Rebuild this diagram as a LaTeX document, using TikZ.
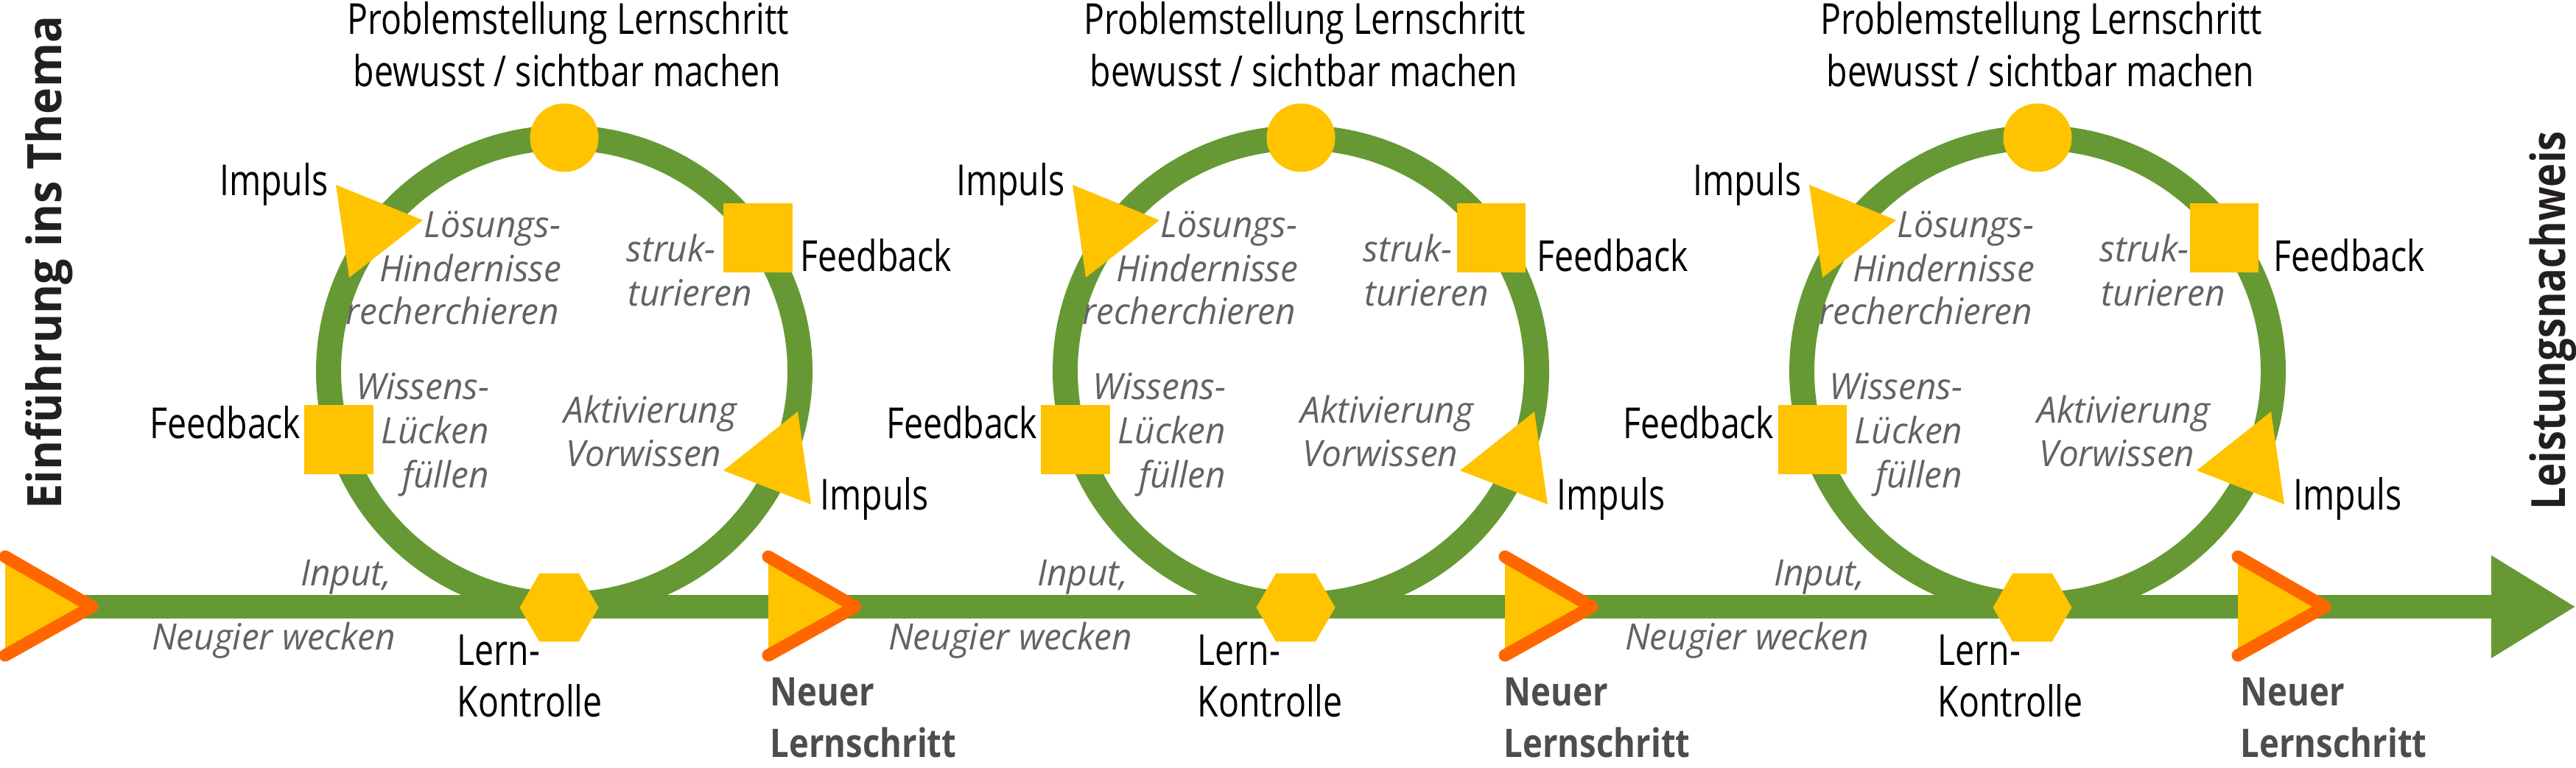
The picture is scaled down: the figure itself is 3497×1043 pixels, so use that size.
\documentclass[tikz,border=0pt]{standalone}
\usepackage{fontspec}
\setmainfont{Open Sans}
\newfontfamily\condf{Open Sans}[FakeStretch=0.80]
\newfontfamily\condbf{Open Sans}[FakeStretch=0.85]
\newfontfamily\widebf{Open Sans}[FakeStretch=0.95]
\newfontfamily\itf{Open Sans}[FakeStretch=0.97]
\usetikzlibrary{arrows.meta,shapes.geometric}
\definecolor{lgreen}{HTML}{669933}
\definecolor{lyellow}{HTML}{FFC300}
\definecolor{lorange}{HTML}{FF6600}
\definecolor{lgray}{HTML}{626262}
\definecolor{ngray}{HTML}{4D4D4F}
\definecolor{tblack}{HTML}{231F20}
\tikzset{
  lbl/.style={inner sep=0pt, font=\condf\fontsize{16.5}{16.5}\selectfont, text=black},
  itl/.style={inner sep=0pt, font=\itf\itshape\fontsize{14}{14}\selectfont, text=lgray},
  nlbl/.style={inner sep=0pt, font=\condbf\bfseries\fontsize{15.2}{15.2}\selectfont, text=ngray},
  loopring/.style={draw=lgreen, line width=0.34cm},
  axis/.style={draw=lgreen, line width=0.32cm, -{Triangle[length=1.15cm,width=1.31cm]}},
  ysq/.style={fill=lyellow, rectangle, minimum size=0.93cm, inner sep=0pt, outer sep=0pt},
  ycirc/.style={fill=lyellow, circle, minimum size=0.93cm, inner sep=0pt, outer sep=0pt},
  yhex/.style={fill=lyellow, regular polygon, regular polygon sides=6, minimum size=1.07cm, inner sep=0pt, outer sep=0pt},
  chev/.style={draw=lorange, line width=0.17cm, line cap=round, line join=round},
}
\begin{document}
\begin{tikzpicture}[x=0.01cm, y=-0.01cm]
\useasboundingbox (0,0) rectangle (3497,1043);

% main axis
\coordinate (start) at (7,824);
\coordinate (end) at (3497,824);
\draw[axis] (start) -- (end);

% three loops
\foreach \k in {0,1,2}{
  \pgfmathsetmacro{\o}{1000*\k}
  \pgfmathsetmacro{\os}{995*\k}
  \pgfmathsetmacro{\ol}{1005*\k}
  \coordinate (c\k) at (766+\o,504);
  \draw[loopring] (c\k) ellipse [x radius=320, y radius=317];
  \node[ycirc] (top\k) at (766+\o,187) {};
  \node[ysq] (fbr\k) at (1029+\os,323) {};
  \node[ysq] (fbl\k) at (460+\o,597) {};
  \node[yhex] (lk\k) at (759+\o,825) {};
  \fill[lyellow] (456+\o,251) -- (574+\o,299) -- (474+\o,377) -- cycle;
  \fill[lyellow] (1083+\o,559) -- (1101+\o,685) -- (982+\o,639) -- cycle;
  % labels
  \node[lbl, anchor=base] (ps\k) at (771+\o,47) {Problemstellung Lernschritt};
  \node[lbl, anchor=base] (bs\k) at (770+\o,118) {bewusst / sichtbar machen};
  \node[lbl, anchor=base east] (imp\k) at (446+\o,266) {Impuls};
  \node[lbl, anchor=base west] (fr\k) at (1086+\o,369) {Feedback};
  \node[lbl, anchor=base east] (fl\k) at (409+\o,595) {Feedback};
  \node[lbl, anchor=base west] (imq\k) at (1113+\o,692) {Impuls};
  \node[lbl, anchor=base west] (lern\k) at (620+\ol,903) {Lern-};
  \node[lbl, anchor=base west] (kon\k) at (620+\ol,973) {Kontrolle};
  % italic texts
  \node[itl, anchor=base east] (la\k) at (762+\o,323) {Lösungs-};
  \node[itl, anchor=base east] (lb\k) at (763+\o,383) {Hindernisse};
  \node[itl, anchor=base east] (lc\k) at (760+\o,440) {recherchieren};
  \node[itl, anchor=base west] (sa\k) at (850+\o,356) {struk-};
  \node[itl, anchor=base west] (sb\k) at (852+\o,416) {turieren};
  \node[itl, anchor=base east] (wa\k) at (665+\o,542) {Wissens-};
  \node[itl, anchor=base east] (wb\k) at (665+\o,602) {Lücken};
  \node[itl, anchor=base east] (wc\k) at (665+\o,662) {füllen};
  \node[itl, anchor=base west] (aa\k) at (765+\o,574) {Aktivierung};
  \node[itl, anchor=base west] (ab\k) at (768+\o,633) {Vorwissen};
  \node[itl, anchor=base east] (in\k) at (532+\o,795) {Input,};
  \node[itl, anchor=base east] (nw\k) at (538+\o,882) {Neugier wecken};
}

% chevrons
\foreach \b/\n in {7/0,1043/1,2043/2,3038/3}{
  \fill[lyellow] (\b,756) -- (\b+118,824) -- (\b,890) -- cycle;
  \draw[chev] (\b,756) -- (\b+118,824) -- (\b,890);
}
\foreach \b/\n in {1045/1,2041/2,3041/3}{
  \node[nlbl, anchor=base west] (neu\n) at (\b,958) {Neuer};
  \node[nlbl, anchor=base west] (ls\n) at (\b,1028) {Lernschritt};
}

% vertical titles
\node[inner sep=0pt, rotate=90, anchor=base west, text=tblack,
      font=\widebf\bfseries\fontsize{18.3}{18.3}\selectfont] (intro) at (83,692) {Einführung ins Thema};
\node[inner sep=0pt, rotate=90, anchor=base west, text=tblack,
      font=\condbf\bfseries\fontsize{18.2}{18.2}\selectfont] (ln) at (3482,693) {Leistungsnachweis};
\end{tikzpicture}
\end{document}
